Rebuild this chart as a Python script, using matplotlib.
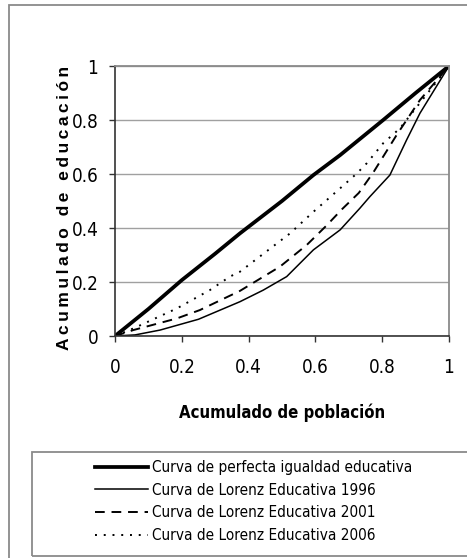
import matplotlib
matplotlib.use("Agg")
import matplotlib.pyplot as plt
from matplotlib.lines import Line2D
from matplotlib.patches import Rectangle

# curvas de Lorenz educativas (acumulado de poblacion, acumulado de educacion)
x_igualdad = [0, 0.1, 0.2, 0.3, 0.374, 0.5, 0.594, 0.674, 0.803, 0.9, 1]
y_igualdad = [0, 0.1, 0.207, 0.305, 0.38, 0.5, 0.596, 0.67, 0.8, 0.9, 1]

x_1996 = [0, 0.06, 0.135, 0.25, 0.374, 0.444, 0.514, 0.594, 0.674, 0.733, 0.763, 0.823, 0.873, 0.913, 1]
y_1996 = [0, 0.004, 0.022, 0.062, 0.127, 0.17, 0.22, 0.319, 0.393, 0.473, 0.516, 0.596, 0.726, 0.825, 1]

x_2001 = [0, 0.055, 0.185, 0.254, 0.374, 0.494, 0.574, 0.634, 0.68, 0.73, 0.773, 0.843, 0.913, 1]
y_2001 = [0, 0.022, 0.065, 0.096, 0.167, 0.257, 0.337, 0.41, 0.47, 0.53, 0.605, 0.744, 0.874, 1]

x_2006 = [0, 0.055, 0.185, 0.284, 0.344, 0.374, 0.524, 0.594, 0.674, 0.724, 0.754, 0.803, 0.853, 1]
y_2006 = [0, 0.028, 0.102, 0.17, 0.22, 0.238, 0.38, 0.46, 0.547, 0.602, 0.64, 0.714, 0.769, 1]

etiquetas = ["Curva de perfecta igualdad educativa",
             "Curva de Lorenz Educativa 1996",
             "Curva de Lorenz Educativa 2001",
             "Curva de Lorenz Educativa 2006"]
ticks = [0, 0.2, 0.4, 0.6, 0.8, 1]
tick_labels = ["0", "0.2", "0.4", "0.6", "0.8", "1"]

fuente = ["DejaVu Sans"]
fuente_ancha = ["Liberation Sans", "DejaVu Sans"]

fig = plt.figure(figsize=(4.67, 5.58), dpi=100)
ax = fig.add_axes([115 / 467, 222 / 558, 334 / 467, 270 / 558])

# marco exterior del grafico
fig.add_artist(Rectangle((9 / 467, -0.1), 1.2, 1.0 - 5 / 558 + 0.1,
                         transform=fig.transFigure, fill=False,
                         edgecolor="#8a8a8a", lw=1.3))
# caja de la leyenda
fig.add_artist(Rectangle((32 / 467, 2 / 558), 1.2, (556 - 452) / 558,
                         transform=fig.transFigure, fill=False,
                         edgecolor="#8a8a8a", lw=1.3))

ax.plot(x_igualdad, y_igualdad, color="black", lw=2.7)
ax.plot(x_1996, y_1996, color="black", lw=1.1)
ax.plot(x_2001, y_2001, color="black", lw=1.4, dashes=(5, 3.5))
ax.plot(x_2006, y_2006, color="black", lw=1.4, dashes=(1, 3.5))

ax.set_xlim(0, 1)
ax.set_ylim(0, 1)
ax.set_xticks(ticks)
ax.set_yticks(ticks)
ax.set_xticklabels(tick_labels, family=fuente, stretch="condensed", fontsize=13.5)
ax.set_yticklabels(tick_labels, family=fuente, stretch="condensed", fontsize=13.5)
ax.tick_params(direction="out", length=4, width=1, color="#333333", pad=12)
ax.tick_params(axis="y", pad=8)
ax.grid(axis="y", color="#a0a0a0", lw=1)
ax.set_axisbelow(True)
for lado in ["top", "right"]:
    ax.spines[lado].set_color("#8a8a8a")
    ax.spines[lado].set_linewidth(1.3)
for lado in ["left", "bottom"]:
    ax.spines[lado].set_color("#333333")
    ax.spines[lado].set_linewidth(1.2)

ax.set_xlabel("Acumulado de población", family=fuente, stretch="condensed",
              fontsize=12, fontweight="bold", labelpad=19)
# rotulo vertical con letras algo espaciadas
rotulo_y = "\u2009".join("Acumulado de educación")
fig.text(65 / 467, 1 - 208 / 558, rotulo_y, rotation=90, ha="center",
         va="center", family=fuente_ancha, fontsize=12.5, fontweight="bold")

manijas = [Line2D([], [], color="black", lw=2.7),
           Line2D([], [], color="black", lw=1.1),
           Line2D([], [], color="black", lw=1.4, dashes=(5, 3.5)),
           Line2D([], [], color="black", lw=1.4, dashes=(1, 3.5))]
fig.legend(manijas, etiquetas, loc="upper left",
           bbox_to_anchor=(95 / 467, 1 - 460 / 558), frameon=False,
           handlelength=3.45, handletextpad=0.3, labelspacing=0.5,
           prop={"family": fuente, "stretch": "condensed", "size": 11},
           borderpad=0, borderaxespad=0)

fig.savefig("out.png", dpi=100)
